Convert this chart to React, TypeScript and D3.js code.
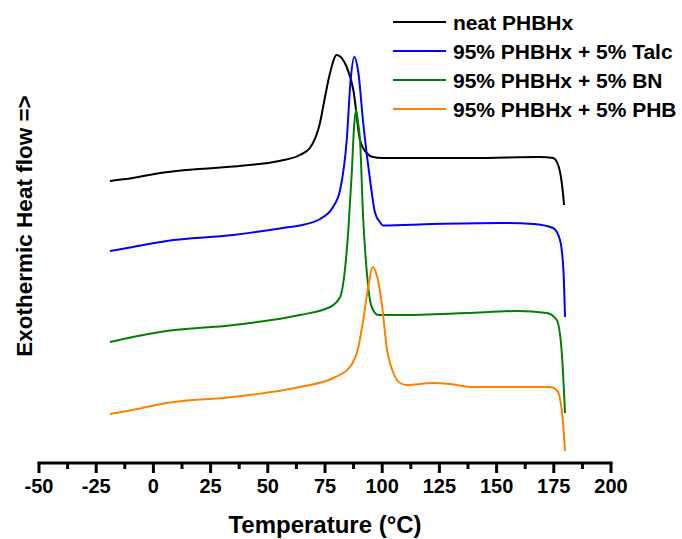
import React from "react";
import * as d3 from "d3";

const xTicks = [-50, -25, 0, 25, 50, 75, 100, 125, 150, 175, 200];
const seriesNames = ["neat PHBHx", "95% PHBHx + 5% Talc", "95% PHBHx + 5% BN", "95% PHBHx + 5% PHB"];
const seriesColors = ["#000000", "#0000ff", "#008000", "#ff8000"];

// [temperature °C, heat flow (arbitrary units, offset traces)]
const neat: [number, number][] = [
  [-19, 282], [-9, 285], [3, 290], [20, 294], [42, 298], [55, 302], [64, 308], [68.4, 315],
  [72.8, 340], [75, 366], [77.2, 390], [80.1, 408], [84.5, 396], [87.4, 373], [90.3, 323],
  [93.2, 310], [96, 306], [100, 305], [108, 305], [140, 305], [169, 306], [174.7, 305],
  [176.9, 298], [178.5, 280], [179.5, 258],
];
const talc: [number, number][] = [
  [-19, 212], [-9, 216], [5.8, 222], [34.8, 228], [56.6, 235], [66, 238.5], [72.8, 244],
  [78.5, 256], [81.6, 273], [84.5, 323], [86.2, 383], [87.8, 406], [89.6, 390], [91.7, 340],
  [94.7, 283], [96.9, 250], [99, 241], [100.4, 237.5], [122, 239], [151.5, 240], [166, 239],
  [174.7, 235], [177.7, 223], [179.2, 193], [179.9, 146],
];
const bn: [number, number][] = [
  [-19, 121], [-9, 126], [3, 131], [35, 138], [64, 148], [77.2, 156], [81.6, 166], [83.7, 193],
  [85.2, 233], [86.7, 290], [87.7, 336], [88.6, 353], [89.4, 341], [90.3, 323], [91.7, 244],
  [93.2, 193], [95.4, 156], [98.3, 148], [108, 148], [137, 150], [159, 152], [172, 150],
  [176.3, 143], [178.5, 110], [179.9, 50],
];
const phb: [number, number][] = [
  [-19, 49], [-9, 53], [5.8, 60], [34.8, 66], [64, 76], [78.6, 85], [85.9, 96], [89.6, 116],
  [91.7, 143], [93.9, 176], [95.8, 196], [97.6, 188], [99.8, 160], [102, 115], [104.9, 90],
  [107.8, 80], [110.7, 78], [122.3, 80], [129.6, 79], [139.8, 76], [158.8, 76], [173.3, 76],
  [176.3, 73], [178.5, 53], [179.9, 12],
];
const allSeries = [neat, talc, bn, phb];

const W = 682;
const H = 539;
const FONT = "'Liberation Sans', Arial, sans-serif";

export default function App() {
  const x = d3.scaleLinear().domain([-50, 200]).range([39, 611]);
  const y = d3.scaleLinear().domain([0, 420]).range([463, 43]);
  const line = d3
    .line<[number, number]>()
    .x((d) => x(d[0]))
    .y((d) => y(d[1]))
    .curve(d3.curveMonotoneX);
  const minor = d3.range(-37.5, 200, 25);
  const axisY = 463;

  return (
    <svg
      width={W}
      height={H}
      style={{ position: "absolute", left: 0, top: 0, background: "#fff" }}
      fontFamily={FONT}
    >
      <rect width={W} height={H} fill="#fff" />
      {allSeries.map((s, i) => (
        <path key={i} d={line(s) || ""} fill="none" stroke={seriesColors[i]} strokeWidth={2} strokeLinejoin="round" />
      ))}
      {/* x axis */}
      <line x1={x(-50) - 1.5} x2={x(200) + 1.5} y1={axisY} y2={axisY} stroke="#000" strokeWidth={3} />
      {xTicks.map((t) => (
        <g key={t}>
          <line x1={x(t)} x2={x(t)} y1={axisY} y2={axisY + 10} stroke="#000" strokeWidth={3} />
          <text x={x(t)} y={493} textAnchor="middle" fontSize={20} fontWeight="bold" fill="#000">
            {t}
          </text>
        </g>
      ))}
      {minor.map((t) => (
        <line key={t} x1={x(t)} x2={x(t)} y1={axisY} y2={axisY + 6} stroke="#000" strokeWidth={3} />
      ))}
      <text x={(x(-50) + x(200)) / 2} y={533} textAnchor="middle" fontSize={24} fontWeight="bold" fill="#000">
        Temperature (°C)
      </text>
      <text
        transform={`translate(32,226) rotate(-90)`}
        textAnchor="middle"
        fontSize={22.5}
        fontWeight="bold"
        fill="#000"
      >
        {"Exothermic Heat flow =>"}
      </text>
      {/* legend */}
      {seriesNames.map((n, i) => {
        const ly = 22 + i * 29;
        return (
          <g key={n}>
            <line x1={393} x2={446} y1={ly} y2={ly} stroke={seriesColors[i]} strokeWidth={2} />
            <text x={453} y={ly + 7.5} fontSize={21} fontWeight="bold" fill="#000">
              {n}
            </text>
          </g>
        );
      })}
    </svg>
  );
}
